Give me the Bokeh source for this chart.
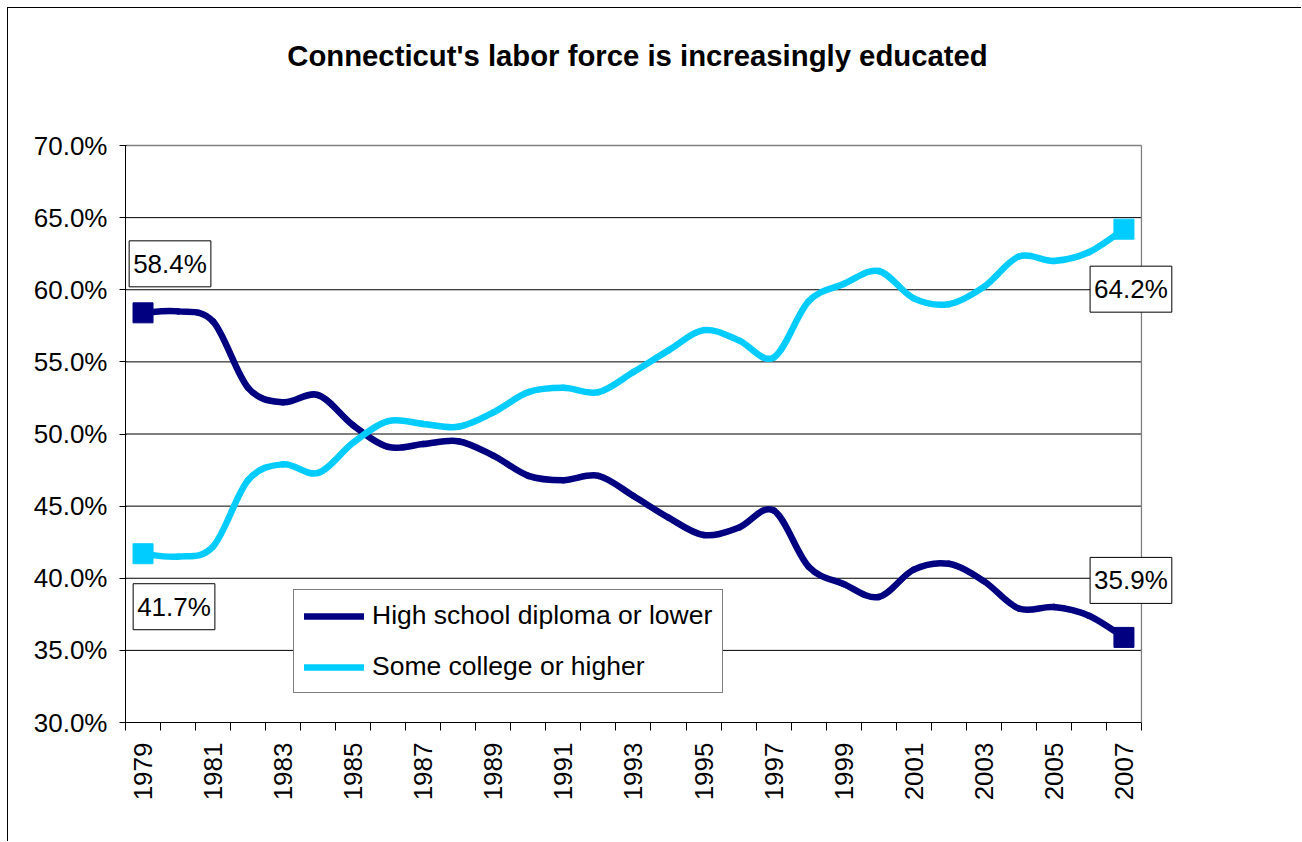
import math
import numpy as np
from bokeh.plotting import figure
from bokeh.models import (FixedTicker, PrintfTickFormatter, Label, Legend, LegendItem,
                          Range1d)
from bokeh.embed import file_html
from bokeh.resources import INLINE

# ---- data ----
years = [1979, 1980, 1981, 1982, 1983, 1984, 1985, 1986, 1987, 1988, 1989, 1990,
         1991, 1992, 1993, 1994, 1995, 1996, 1997, 1998, 1999, 2000, 2001, 2002,
         2003, 2004, 2005, 2006, 2007]
high_school = [58.4, 58.5, 57.8, 53.2, 52.2, 52.7, 50.6, 49.1, 49.3, 49.5, 48.5, 47.1,
               46.8, 47.1, 45.7, 44.2, 43.0, 43.5, 44.7, 40.8, 39.6, 38.7, 40.6, 41.0,
               39.8, 37.9, 38.0, 37.4, 35.9]
college = [41.7, 41.5, 42.2, 46.8, 47.9, 47.3, 49.4, 50.9, 50.7, 50.5, 51.5, 52.9,
           53.2, 52.9, 54.3, 55.8, 57.2, 56.5, 55.3, 59.2, 60.4, 61.3, 59.4, 59.0,
           60.2, 62.3, 62.0, 62.6, 64.2]
series_names = ["High school diploma or lower", "Some college or higher"]
year_labels = ["1979", "1981", "1983", "1985", "1987", "1989", "1991", "1993", "1995",
               "1997", "1999", "2001", "2003", "2005", "2007"]
y_ticks = [30, 35, 40, 45, 50, 55, 60, 65, 70]
title_text = "Connecticut's labor force is increasingly educated"

DARK = "#000080"
LIGHT = "#00CCFF"
FONT = "Liberation Sans"

x_lo = years[0] - 0.5
x_hi = years[-1] + 0.5
y_lo = y_ticks[0]
y_hi = y_ticks[-1]

# layout (pixels)
FIG_W, FIG_H = 1294, 834
BORDER_L, BORDER_R, BORDER_B = 117, 119, 120
PLOT_H = 577          # height of the 30%..70% plot area
TOP_SPACE = 137       # space above the plot area, used for the title
y_top = y_hi + TOP_SPACE * (y_hi - y_lo) / PLOT_H


def smooth_segments(xs, ys):
    """Bezier control points for a smoothed line through the data (Catmull-Rom)."""
    xs = np.asarray(xs, dtype=float)
    ys = np.asarray(ys, dtype=float)
    n = len(xs)
    i = np.arange(n - 1)
    ip = np.maximum(i - 1, 0)
    inx = np.minimum(i + 2, n - 1)
    return dict(
        x0=xs[i], y0=ys[i], x1=xs[i + 1], y1=ys[i + 1],
        cx0=xs[i] + (xs[i + 1] - xs[ip]) / 6.0,
        cy0=ys[i] + (ys[i + 1] - ys[ip]) / 6.0,
        cx1=xs[i + 1] - (xs[inx] - xs[i]) / 6.0,
        cy1=ys[i + 1] - (ys[inx] - ys[i]) / 6.0,
    )


p = figure(width=FIG_W, height=FIG_H, output_backend="svg", toolbar_location=None,
           x_range=Range1d(x_lo, x_hi + 1.2),
           y_range=Range1d(y_lo, y_top),
           min_border_left=BORDER_L, min_border_right=BORDER_R,
           min_border_top=0, min_border_bottom=BORDER_B, title_location=None)
p.styles = {"margin-left": "7px", "margin-top": "7px",
            "border-left": "1px solid black", "border-top": "1px solid black"}

p.outline_line_color = None
p.xgrid.visible = False
p.ygrid.visible = False

# horizontal gridlines and plot-area border, limited to the category span
inner = y_ticks[1:-1]
p.segment(x0=[x_lo] * len(inner), x1=[x_hi] * len(inner), y0=inner, y1=inner,
          line_color="black", line_width=1)
p.segment(x0=[x_lo, x_hi], x1=[x_hi, x_hi], y0=[y_hi, y_lo], y1=[y_hi, y_hi],
          line_color="#808080", line_width=1.3)

# title
p.add_layout(Label(x=(x_lo + x_hi) / 2, y=y_hi, x_offset=4, y_offset=90,
                   text=title_text, text_align="center", text_baseline="middle",
                   text_font=FONT, text_font_size="29.3px", text_font_style="bold",
                   text_color="black"))

# y axis
ya = p.yaxis[0]
ya.ticker = FixedTicker(ticks=y_ticks)
ya.bounds = (y_lo, y_hi)
ya.formatter = PrintfTickFormatter(format="%.1f%%")
ya.major_label_text_font = FONT
ya.major_label_text_font_size = "26px"
ya.major_label_text_color = "black"
ya.axis_line_color = "black"
ya.major_tick_line_color = "black"
ya.major_tick_out = 6
ya.major_tick_in = 1
ya.minor_tick_line_color = None
ya.major_label_standoff = 12

# x axis
xa = p.xaxis[0]
label_ticks = [int(s) for s in year_labels]
xa.ticker = FixedTicker(ticks=label_ticks,
                        minor_ticks=[y - 0.5 for y in years] + [x_hi])
xa.major_label_overrides = {t: s for t, s in zip(label_ticks, year_labels)}
xa.major_label_orientation = math.pi / 2
xa.major_label_text_font = FONT
xa.major_label_text_font_size = "26px"
xa.major_label_text_color = "black"
xa.axis_line_color = "black"
xa.bounds = (x_lo, x_hi)
xa.major_tick_line_color = None
xa.major_tick_out = 0
xa.major_tick_in = 0
xa.minor_tick_line_color = "black"
xa.minor_tick_out = 8
xa.minor_tick_in = 0
xa.major_label_standoff = 12

r_hs = p.bezier(**smooth_segments(years, high_school), line_color=DARK,
                line_width=6.5, line_cap="round")
r_col = p.bezier(**smooth_segments(years, college), line_color=LIGHT,
                 line_width=6.5, line_cap="round")

p.scatter(x=[years[0], years[-1]], y=[high_school[0], high_school[-1]],
          marker="square", size=20, color=DARK)
p.scatter(x=[years[0], years[-1]], y=[college[0], college[-1]],
          marker="square", size=20, color=LIGHT)

# data labels
lab_specs = [
    (years[0], high_school[0], 27, 49),
    (years[0], college[0], 31, -53),
    (years[-1], college[-1], 7, -60),
    (years[-1], high_school[-1], 7, 57),
]
for xv, yv, dx, dy in lab_specs:
    p.add_layout(Label(x=xv, y=yv, text=f"{yv:.1f}%", x_offset=dx, y_offset=dy,
                       text_align="center", text_baseline="middle",
                       text_font=FONT, text_font_size="26px", text_color="black",
                       border_line_color="black", border_line_width=1,
                       background_fill_color="white", padding=dict(x=4, y=8)))

legend = Legend(items=[LegendItem(label=series_names[0], renderers=[r_hs]),
                       LegendItem(label=series_names[1], renderers=[r_col])],
                location=(168, 29), orientation="vertical",
                label_text_font=FONT, label_text_font_size="26.5px",
                label_text_color="black",
                glyph_width=60, glyph_height=26, label_height=26,
                label_standoff=8, spacing=20, padding=10, margin=0,
                border_line_color="black", border_line_width=1,
                background_fill_color="white", background_fill_alpha=1)
p.add_layout(legend, "center")

open("out.html", "w").write(file_html(p, INLINE))
